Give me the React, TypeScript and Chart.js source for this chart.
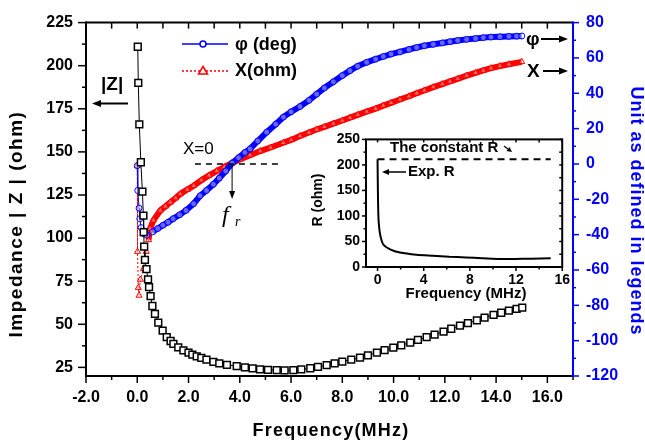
import React, { useEffect, useRef } from "react";
import { Chart, registerables } from "chart.js";
Chart.register(...registerables);

// ---------- data ----------
const xTickVals = [-2, 0, 2, 4, 6, 8, 10, 12, 14, 16];
const leftTickVals = [25, 50, 75, 100, 125, 150, 175, 200, 225];
const rightTickVals = [-120, -100, -80, -60, -40, -20, 0, 20, 40, 60, 80];

// |Z| (ohm), left axis
const zFreq = [0.02, 0.04, 0.08, 0.14, 0.2, 0.24, 0.25, 0.27, 0.3, 0.36, 0.42, 0.46, 0.52, 0.59, 0.69, 0.82, 0.99, 1.15, 1.3, 1.41, 1.6, 1.8, 2.0, 2.15, 2.32, 2.5, 2.7, 2.97, 3.2, 3.5, 3.88, 4.2, 4.5, 4.79, 5.1, 5.44, 5.75, 6.09, 6.4, 6.75, 7.05, 7.39, 7.7, 8.0, 8.35, 8.69, 9.0, 9.35, 9.65, 9.99, 10.3, 10.65, 10.95, 11.29, 11.6, 11.95, 12.25, 12.59, 12.9, 13.25, 13.55, 13.9, 14.2, 14.5, 14.8, 15.02];
const zVals = [211, 190, 166, 144, 127, 113, 103.5, 95, 87.4, 82, 76, 71.5, 66.3, 60.6, 56, 51, 46.3, 42.5, 40.3, 38.6, 36.6, 34.9, 33.5, 32.4, 31.4, 30.5, 29.5, 28.2, 27.3, 26.5, 25.7, 25, 24.4, 23.9, 23.6, 23.4, 23.3, 23.4, 23.8, 24.5, 25.3, 26.3, 27.3, 28.3, 29.5, 30.7, 32, 33.6, 35, 36.4, 37.8, 39.4, 40.9, 42.5, 44, 45.8, 47.4, 49.2, 50.7, 52.3, 53.9, 55.5, 56.7, 57.9, 58.9, 59.7];

// phi (deg), right axis
const phiFreq = [0.0, 0.02, 0.07, 0.1, 0.15, 0.24, 0.37, 0.6, 0.8, 1.0, 1.2, 1.4, 1.65, 1.9, 2.2, 2.45, 2.7, 2.97, 3.2, 3.45, 3.7, 3.95, 4.2, 4.4, 4.7, 5.05, 5.4, 5.7, 6.0, 6.35, 6.7, 7.0, 7.3, 7.65, 8.0, 8.3, 8.6, 8.95, 9.3, 9.6, 9.9, 10.25, 10.6, 10.9, 11.2, 11.55, 11.9, 12.2, 12.5, 12.85, 13.2, 13.5, 13.8, 14.15, 14.5, 14.8, 15.0];
const phiVals = [-1, -15, -25, -31, -36, -39.4, -40.3, -38.4, -36.5, -34.7, -33, -31, -28.8, -26.3, -22.5, -18, -15, -11.5, -8, -4, 0.5, 3.5, 6.5, 8.5, 13, 18, 22.5, 26.5, 29.5, 32.5, 36, 39.5, 43, 46.5, 50, 52.8, 55.3, 57.5, 59.3, 60.8, 62.2, 63.4, 64.8, 65.9, 66.9, 67.7, 68.5, 69.2, 69.9, 70.5, 71, 71.5, 71.8, 72, 72.2, 72.3, 72.4];

// X (ohm), right axis
const xFreq = [0.0, 0.01, 0.04, 0.07, 0.12, 0.24, 0.35, 0.44, 0.5, 0.63, 0.9, 1.1, 1.29, 1.5, 1.68, 1.95, 2.2, 2.5, 2.8, 3.1, 3.4, 3.7, 4.0, 4.4, 4.8, 5.2, 5.7, 6.0, 6.35, 6.7, 7.0, 7.3, 7.65, 8.0, 8.3, 8.6, 8.95, 9.3, 9.6, 9.9, 10.25, 10.6, 10.9, 11.2, 11.55, 11.9, 12.2, 12.5, 12.85, 13.2, 13.5, 13.8, 14.15, 14.5, 15.0];
const xVals = [-1, -49.6, -70, -74.4, -65.4, -59.3, -49.6, -43, -36.6, -31.9, -26.3, -24, -21.7, -19.3, -17, -14.5, -12.3, -9.2, -6.5, -4, -1.7, 0.5, 2.5, 5, 7.3, 9.3, 12, 13.6, 15.8, 17.8, 19.5, 21, 22.8, 24.6, 26.2, 27.8, 29.6, 31.3, 33, 34.6, 36.5, 38.3, 40, 41.6, 43.5, 45.2, 46.7, 48.2, 50, 51.6, 52.9, 54.2, 55.4, 56.4, 57.8];

// inset: R (ohm)
const insetXTickVals = [0, 4, 8, 12, 16];
const insetYTickVals = [0, 50, 100, 150, 200, 250];
const rFreq = [0.0, 0.03, 0.06, 0.1, 0.23, 0.5, 1.09, 1.94, 3.37, 4.79, 6.21, 7.64, 9.06, 10.48, 11.9, 13.3, 15.0];
const rVals = [211, 150, 110, 88, 63, 44, 34.6, 28.3, 24, 22, 20, 18.8, 17, 15.7, 15.7, 16.4, 17];
const constRFreq = [0, 15];
const constRVals = [211, 211];

const SANS = "'Liberation Sans', Arial, Helvetica, sans-serif";
const BLUE = "#0000ff";
const RED = "#ff0000";

const pts = (xs: number[], ys: number[]) => xs.map((x, i) => ({ x, y: ys[i] }));

function line(ctx: CanvasRenderingContext2D, x1: number, y1: number, x2: number, y2: number) {
  ctx.beginPath();
  ctx.moveTo(x1, y1);
  ctx.lineTo(x2, y2);
  ctx.stroke();
}

function arrow(ctx: CanvasRenderingContext2D, x1: number, y1: number, x2: number, y2: number, head = 8, w = 3.5) {
  const ang = Math.atan2(y2 - y1, x2 - x1);
  const bx = x2 - head * Math.cos(ang);
  const by = y2 - head * Math.sin(ang);
  line(ctx, x1, y1, bx, by);
  ctx.beginPath();
  ctx.moveTo(x2, y2);
  ctx.lineTo(bx + w * Math.sin(ang), by - w * Math.cos(ang));
  ctx.lineTo(bx - w * Math.sin(ang), by + w * Math.cos(ang));
  ctx.closePath();
  ctx.fill();
}

function spaced(ctx: CanvasRenderingContext2D, s: string) {
  (ctx as any).letterSpacing = s;
}

const mainDeco = {
  id: "mainDeco",
  afterDraw(chart: any) {
    const { ctx, chartArea: a, scales } = chart;
    const xs = scales.x, yl = scales.y, yr = scales.y1;
    ctx.save();
    ctx.lineCap = "butt";
    // frame
    ctx.lineWidth = 2;
    ctx.strokeStyle = "#000";
    line(ctx, a.left, a.top, a.right, a.top);
    line(ctx, a.left, a.top - 1, a.left, a.bottom + 1);
    line(ctx, a.left - 1, a.bottom, a.right, a.bottom);
    // bottom + top ticks
    ctx.lineWidth = 1.5;
    for (let v = -2; v <= 17; v++) {
      const x = xs.getPixelForValue(v);
      const major = v % 2 === 0;
      line(ctx, x, a.bottom, x, a.bottom + (major ? 7 : 4));
      line(ctx, x, a.top, x, a.top + 6);
    }
    // left ticks
    for (let v = 25; v <= 225; v += 12.5) {
      const y = yl.getPixelForValue(v);
      const major = v % 25 === 0;
      line(ctx, a.left, y, a.left - (major ? 8 : 4), y);
    }
    // right axis (blue)
    ctx.strokeStyle = BLUE;
    ctx.lineWidth = 2;
    line(ctx, a.right, a.top - 1, a.right, a.bottom + 1);
    ctx.lineWidth = 1.5;
    for (let v = -120; v <= 80; v += 10) {
      const y = yr.getPixelForValue(v);
      const major = v % 20 === 0;
      line(ctx, a.right, y, a.right + (major ? 6 : 3), y);
    }

    // axis titles
    ctx.fillStyle = "#000";
    ctx.textBaseline = "middle";
    ctx.textAlign = "center";
    spaced(ctx, "1.5px");
    ctx.font = `bold 19px ${SANS}`;
    ctx.save();
    ctx.translate(17, 224);
    ctx.rotate(-Math.PI / 2);
    ctx.fillText("Impedance | Z | (ohm)", 0, 0);
    ctx.restore();
    spaced(ctx, "1.2px");
    ctx.font = `bold 18px ${SANS}`;
    ctx.fillText("Frequency(MHz)", 331, 431);
    ctx.fillStyle = BLUE;
    spaced(ctx, "1px");
    ctx.save();
    ctx.translate(636, 211);
    ctx.rotate(Math.PI / 2);
    ctx.fillText("Unit as defined in legends", 0, 0);
    ctx.restore();
    spaced(ctx, "0px");

    // X=0 dashed line
    const y0 = yr.getPixelForValue(0);
    ctx.strokeStyle = "#000";
    ctx.lineWidth = 1.5;
    ctx.setLineDash([6, 5]);
    line(ctx, xs.getPixelForValue(2.25), y0, xs.getPixelForValue(5.5), y0);
    ctx.setLineDash([]);
    ctx.fillStyle = "#000";
    ctx.textAlign = "left";
    ctx.textBaseline = "alphabetic";
    ctx.font = `17px ${SANS}`;
    ctx.fillText("X=0", 183, 154);
    // f_r arrow
    ctx.lineWidth = 1;
    const xr = xs.getPixelForValue(3.7);
    arrow(ctx, xr, y0, xr, 199, 8, 3);
    ctx.font = `italic 24px 'Liberation Serif', 'DejaVu Serif', serif`;
    ctx.fillText("f", 222, 222);
    ctx.font = `italic 14px 'Liberation Serif', 'DejaVu Serif', serif`;
    ctx.fillText("r", 235, 226);

    // |Z| label & arrow
    ctx.font = `bold 19px ${SANS}`;
    ctx.fillText("|Z|", 101, 90);
    ctx.lineWidth = 2;
    arrow(ctx, 128, 103.5, 92, 103.5, 9, 3.5);
    // phi and X labels
    ctx.font = `bold 19px ${SANS}`;
    ctx.fillText("\u03c6", 526, 45);
    arrow(ctx, 541, 39, 568, 39, 9, 3.5);
    ctx.fillText("X", 527, 77);
    arrow(ctx, 543, 71, 568, 71, 9, 3.5);

    // legend
    ctx.lineWidth = 1.5;
    ctx.strokeStyle = BLUE;
    line(ctx, 182, 44, 228, 44);
    ctx.fillStyle = "#fff";
    ctx.beginPath();
    ctx.arc(203, 44, 3, 0, Math.PI * 2);
    ctx.fill();
    ctx.stroke();
    ctx.strokeStyle = RED;
    ctx.setLineDash([2, 2]);
    line(ctx, 182, 71, 228, 71);
    ctx.setLineDash([]);
    ctx.beginPath();
    ctx.moveTo(203, 66.5);
    ctx.lineTo(207.5, 74);
    ctx.lineTo(198.5, 74);
    ctx.closePath();
    ctx.fill();
    ctx.stroke();
    ctx.fillStyle = "#000";
    ctx.textBaseline = "middle";
    ctx.font = `bold 18px ${SANS}`;
    ctx.fillText("\u03c6 (deg)", 235, 45);
    ctx.fillText("X(ohm)", 235, 71);
    ctx.restore();
  },
};

const insetDeco = {
  id: "insetDeco",
  beforeDraw(chart: any) {
    const { ctx, chartArea: a } = chart;
    ctx.save();
    ctx.fillStyle = "#fff";
    ctx.fillRect(a.left, a.top, a.right - a.left, a.bottom - a.top);
    ctx.restore();
  },
  afterDraw(chart: any) {
    const { ctx, chartArea: a, scales } = chart;
    const xs = scales.x, ys = scales.y;
    ctx.save();
    ctx.strokeStyle = "#000";
    ctx.lineWidth = 2;
    ctx.strokeRect(a.left, a.top, a.right - a.left, a.bottom - a.top);
    ctx.lineWidth = 1.5;
    for (let v = 0; v <= 16; v += 2) {
      const x = xs.getPixelForValue(v);
      const major = v % 4 === 0;
      line(ctx, x, a.bottom, x, a.bottom + (major ? 4 : 2.5));
      line(ctx, x, a.top, x, a.top + 3);
    }
    for (let v = 0; v <= 250; v += 25) {
      const y = ys.getPixelForValue(v);
      const major = v % 50 === 0;
      line(ctx, a.left, y, a.left - (major ? 4 : 2.5), y);
      line(ctx, a.right, y, a.right - 3, y);
    }
    ctx.fillStyle = "#000";
    ctx.font = `bold 15px ${SANS}`;
    ctx.textAlign = "center";
    ctx.textBaseline = "middle";
    ctx.fillText("Frequency (MHz)", 166, 169);
    ctx.save();
    ctx.translate(18, 75);
    ctx.rotate(-Math.PI / 2);
    ctx.font = `bold 14px ${SANS}`;
    ctx.fillText("R (ohm)", 0, 0);
    ctx.restore();
    ctx.textAlign = "left";
    ctx.font = `bold 15px ${SANS}`;
    ctx.fillText("The constant R", 90, 23);
    ctx.fillText("Exp. R", 108, 47);
    ctx.lineWidth = 1.5;
    arrow(ctx, 106, 47, 82, 47, 7, 3);
    ctx.lineWidth = 1.2;
    arrow(ctx, 204, 21, 212, 27, 5, 2.5);
    ctx.restore();
  },
};

const NEAR0 = 0.4;
const BAND = 6;

export default function App() {
  const mainRef = useRef<HTMLCanvasElement>(null);
  const insetRef = useRef<HTMLCanvasElement>(null);

  useEffect(() => {
    const tickFont = { family: SANS, size: 16, weight: "bold" as const };
    const main = new Chart(mainRef.current!, {
      type: "scatter",
      data: {
        datasets: [
          {
            label: "X(ohm)",
            data: pts(xFreq, xVals),
            yAxisID: "y1",
            showLine: true,
            borderColor: RED,
            borderWidth: BAND,
            segment: {
              borderWidth: (c: any) => (c.p0.parsed.x < NEAR0 ? 1 : BAND),
              borderDash: (c: any) => (c.p0.parsed.x < NEAR0 ? [2, 2] : []),
            },
            pointStyle: "triangle",
            pointRadius: 3.5,
            pointBorderWidth: 1,
            pointBorderColor: RED,
            pointBackgroundColor: "rgba(255,255,255,0.4)",
            order: 2,
          },
          {
            label: "\u03c6 (deg)",
            data: pts(phiFreq, phiVals),
            yAxisID: "y1",
            showLine: true,
            borderColor: BLUE,
            borderWidth: BAND,
            segment: {
              borderWidth: (c: any) => (c.p0.parsed.x < NEAR0 ? 1 : BAND),
            },
            pointStyle: "circle",
            pointRadius: 3,
            pointBorderWidth: 1,
            pointBorderColor: BLUE,
            pointBackgroundColor: "rgba(255,255,255,0.4)",
            order: 1,
          },
          {
            label: "|Z|",
            data: pts(zFreq, zVals),
            yAxisID: "y",
            showLine: true,
            borderColor: "#000",
            borderWidth: 1,
            pointStyle: "rect",
            pointRadius: 4.8,
            pointBorderWidth: 1.5,
            pointBorderColor: "#000",
            pointBackgroundColor: "#fff",
            order: 0,
          },
        ],
      },
      options: {
        responsive: false,
        animation: false,
        layout: { padding: { top: 18, left: 0, right: 0, bottom: 0 } },
        plugins: { legend: { display: false }, tooltip: { enabled: false } },
        scales: {
          x: {
            type: "linear",
            min: -2,
            max: 17,
            afterBuildTicks: (s: any) => { s.ticks = xTickVals.map((v) => ({ value: v })); },
            ticks: { font: tickFont, color: "#000", padding: 12, maxRotation: 0, autoSkip: false, callback: (v: any) => Number(v).toFixed(1) },
            grid: { display: false, drawTicks: false },
            border: { display: false },
            afterFit: (s: any) => { s.height = 66; },
          },
          y: {
            type: "linear",
            position: "left",
            min: 20,
            max: 225,
            afterBuildTicks: (s: any) => { s.ticks = leftTickVals.map((v) => ({ value: v })); },
            ticks: { font: tickFont, color: "#000", padding: 13, autoSkip: false },
            grid: { display: false, drawTicks: false },
            border: { display: false },
            afterFit: (s: any) => { s.width = 86; },
          },
          y1: {
            type: "linear",
            position: "right",
            min: -120,
            max: 80,
            afterBuildTicks: (s: any) => { s.ticks = rightTickVals.map((v) => ({ value: v })); },
            ticks: { font: tickFont, color: BLUE, padding: 13, autoSkip: false },
            grid: { display: false, drawTicks: false },
            border: { display: false },
            afterFit: (s: any) => { s.width = 72; },
          },
        },
      },
      plugins: [mainDeco],
    });

    const insetTickFont = { family: SANS, size: 14, weight: "bold" as const };
    const inset = new Chart(insetRef.current!, {
      type: "scatter",
      data: {
        datasets: [
          {
            label: "The constant R",
            data: pts(constRFreq, constRVals),
            showLine: true,
            borderColor: "#000",
            borderWidth: 2,
            borderDash: [7, 5],
            pointRadius: 0,
          },
          {
            label: "Exp. R",
            data: pts(rFreq, rVals),
            showLine: true,
            borderColor: "#000",
            borderWidth: 2,
            pointRadius: 0,
            tension: 0.2,
          },
        ],
      },
      options: {
        responsive: false,
        animation: false,
        layout: { padding: { top: 9, right: 10, left: 0, bottom: 0 } },
        plugins: { legend: { display: false }, tooltip: { enabled: false } },
        scales: {
          x: {
            type: "linear",
            min: -1,
            max: 16,
            afterBuildTicks: (s: any) => { s.ticks = insetXTickVals.map((v) => ({ value: v })); },
            ticks: { font: insetTickFont, color: "#000", padding: 5, maxRotation: 0, autoSkip: false },
            grid: { display: false, drawTicks: false },
            border: { display: false },
            afterFit: (s: any) => { s.height = 38; },
          },
          y: {
            type: "linear",
            min: 0,
            max: 250,
            afterBuildTicks: (s: any) => { s.ticks = insetYTickVals.map((v) => ({ value: v })); },
            ticks: { font: insetTickFont, color: "#000", padding: 6, autoSkip: false },
            grid: { display: false, drawTicks: false },
            border: { display: false },
            afterFit: (s: any) => { s.width = 66; },
          },
        },
      },
      plugins: [insetDeco],
    });

    return () => {
      main.destroy();
      inset.destroy();
    };
  }, []);

  return (
    <div style={{ position: "fixed", left: 0, top: 0, width: 645, height: 442, background: "#fff", overflow: "hidden" }}>
      <canvas ref={mainRef} width={645} height={442} style={{ position: "absolute", left: 0, top: 0, width: 645, height: 442 }} />
      <canvas ref={insetRef} width={275} height={180} style={{ position: "absolute", left: 300, top: 125, width: 275, height: 180 }} />
    </div>
  );
}
